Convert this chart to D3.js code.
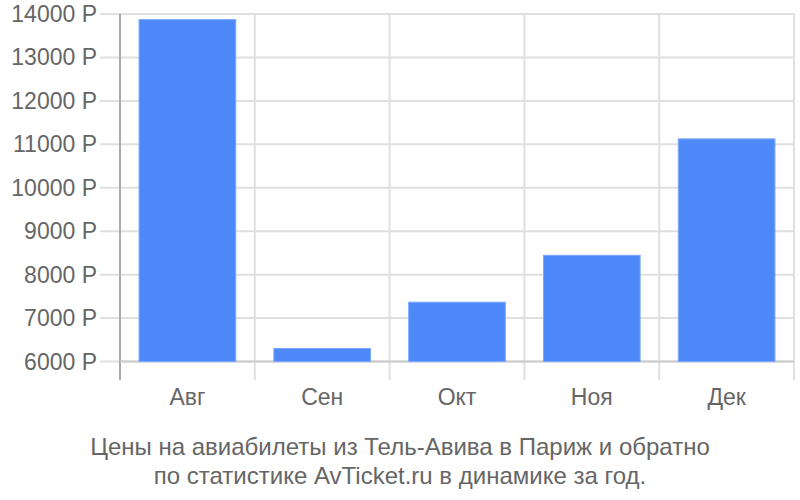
<!DOCTYPE html>
<html><head><meta charset="utf-8">
<script src="https://cdn.jsdelivr.net/npm/d3@7"></script>
<style>body{margin:0;background:#fff;} text{font-family:"Liberation Sans",Arial,sans-serif;}</style>
</head><body>
<svg id="c" width="800" height="500"></svg>
<script>
const categories = ["Авг","Сен","Окт","Ноя","Дек"];
const values = [13870, 6300, 7365, 8445, 11125];
const yTicks = [6000,7000,8000,9000,10000,11000,12000,13000,14000];
const captionLines = ["Цены на авиабилеты из Тель-Авива в Париж и обратно","по статистике AvTicket.ru в динамике за год."];

(function(){
const svg = d3.select("#c");
const L = 120, R = 794, T = 14, B = 361.5, AB = 380;
const x = d3.scaleBand().domain(categories).range([L, R]).paddingInner(0.283).paddingOuter(0.1415);
const y = d3.scaleLinear().domain([6000, 14000]).range([B, T]);
const grid = "#e0e0e0", txt = "#666";

svg.append("g").selectAll("line").data(yTicks).join("line")
  .attr("x1", 100).attr("x2", R).attr("y1", d => y(d)).attr("y2", d => y(d))
  .attr("stroke", grid).attr("stroke-width", 2);
const bounds = categories.map(c => x(c) - x.step()*x.paddingInner()/2).concat([R]);
svg.append("g").selectAll("line").data(bounds.slice(1)).join("line")
  .attr("x1", d => d).attr("x2", d => d).attr("y1", T).attr("y2", AB)
  .attr("stroke", grid).attr("stroke-width", 2);
svg.append("line").attr("x1", L).attr("x2", L).attr("y1", T).attr("y2", AB)
  .attr("stroke", "#aaa").attr("stroke-width", 2);
svg.append("line").attr("x1", L).attr("x2", R).attr("y1", B).attr("y2", B)
  .attr("stroke", "#ccc").attr("stroke-width", 2);

svg.append("g").selectAll("rect").data(values).join("rect")
  .attr("x", (d,i) => x(categories[i])).attr("width", x.bandwidth())
  .attr("y", d => y(d)).attr("height", d => B - y(d))
  .attr("fill", "#4d89f9").attr("stroke", "#7aa6fb").attr("stroke-width", 1);

svg.append("g").selectAll("text").data(yTicks).join("text")
  .attr("x", 97).attr("y", d => y(d)).attr("dy", "0.35em").attr("text-anchor", "end")
  .attr("font-size", 23).attr("fill", txt).text(d => d + " Р");
svg.append("g").selectAll("text").data(categories).join("text")
  .attr("x", d => x(d) + x.bandwidth()/2).attr("y", 405).attr("text-anchor", "middle")
  .attr("font-size", 23).attr("fill", txt).text(d => d);
svg.append("g").selectAll("text").data(captionLines).join("text")
  .attr("x", 400).attr("y", (d,i) => 455 + i*29).attr("text-anchor", "middle")
  .attr("font-size", 24).attr("fill", txt).text(d => d);
})();
</script>
</body></html>
